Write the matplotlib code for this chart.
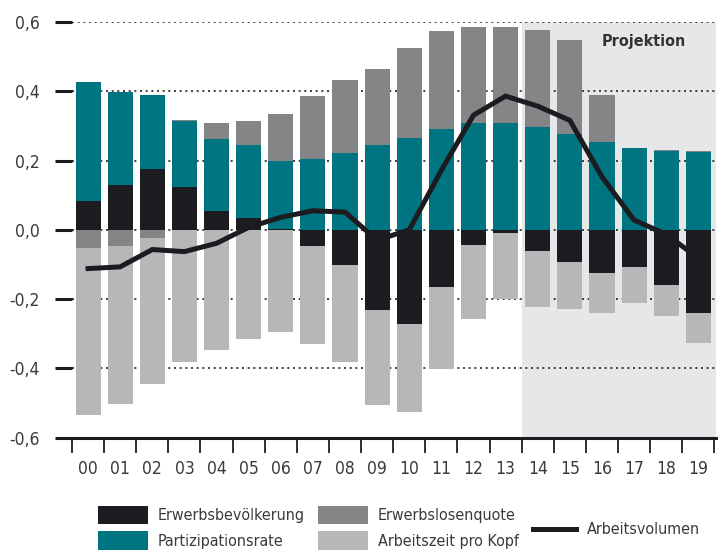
import matplotlib
matplotlib.use("Agg")
import matplotlib.pyplot as plt
import numpy as np
from matplotlib.patches import Patch
from matplotlib.lines import Line2D

plt.rcParams['font.family'] = ['DejaVu Sans']
plt.rcParams['font.stretch'] = 'condensed'

years = ["00", "01", "02", "03", "04", "05", "06", "07", "08", "09",
         "10", "11", "12", "13", "14", "15", "16", "17", "18", "19"]
erwerbsbev = [0.083, 0.129, 0.175, 0.123, 0.054, 0.034, 0.001, -0.046, -0.101, -0.233,
              -0.272, -0.165, -0.043, -0.009, -0.060, -0.093, -0.124, -0.108, -0.159, -0.241]
partizipation = [0.344, 0.269, 0.214, 0.191, 0.208, 0.210, 0.199, 0.203, 0.221, 0.244,
                 0.264, 0.290, 0.308, 0.308, 0.296, 0.276, 0.253, 0.235, 0.228, 0.225]
erwerbslosen = [-0.053, -0.046, -0.024, 0.003, 0.046, 0.070, 0.134, 0.183, 0.211, 0.219,
                0.260, 0.283, 0.279, 0.277, 0.282, 0.271, 0.136, 0.002, 0.002, 0.002]
arbeitszeit = [-0.483, -0.456, -0.420, -0.381, -0.346, -0.315, -0.294, -0.283, -0.280, -0.272,
               -0.253, -0.236, -0.214, -0.191, -0.162, -0.135, -0.115, -0.103, -0.089, -0.085]
arbeitsvolumen = [-0.112, -0.107, -0.057, -0.063, -0.039, 0.007, 0.036, 0.055, 0.051, -0.030,
                  0.000, 0.172, 0.331, 0.386, 0.357, 0.316, 0.153, 0.028, -0.013, -0.082]
proj_start = "14"

series = [("Erwerbsbevölkerung", erwerbsbev, "#1c1b1f"),
          ("Partizipationsrate", partizipation, "#007582"),
          ("Erwerbslosenquote", erwerbslosen, "#848587"),
          ("Arbeitszeit pro Kopf", arbeitszeit, "#b6b7b9")]

fig = plt.figure(figsize=(7.18, 5.55), dpi=100)
ax = fig.add_axes([72/718, 1-437.6/555, (716-72)/718, (437.6-22)/555])

x = np.arange(len(years))
ps = years.index(proj_start)
ax.axvspan(ps - 0.5, len(years) + 1, ymin=0, ymax=1, color="#e6e7e9", zorder=0, lw=0)

for yv in [0.6, 0.4, 0.2, 0.0, -0.2, -0.4, -0.6]:
    ax.axhline(yv, color="#222222", lw=1.2, ls=(0, (1.2, 2.2)), zorder=1)

pos_base = np.zeros(len(years))
neg_base = np.zeros(len(years))
for name, vals, col in series:
    v = np.array(vals)
    base = np.where(v >= 0, pos_base, neg_base)
    ax.bar(x, v, bottom=base, width=0.78, color=col, zorder=2, lw=0)
    pos_base = pos_base + np.where(v >= 0, v, 0)
    neg_base = neg_base + np.where(v < 0, v, 0)

ax.plot(x, arbeitsvolumen, color="#1c1b1f", lw=3.6, zorder=4, solid_joinstyle="miter")

ax.set_xlim(-0.5, 19.55)
ax.set_ylim(-0.6, 0.6)
for s in ["top", "right", "left"]:
    ax.spines[s].set_visible(False)
ax.spines["bottom"].set_linewidth(2.2)
ax.spines["bottom"].set_color("#1c1b1f")
ax.spines["bottom"].set_zorder(5)

tc = "#3a3a3a"
ax.set_yticks([0.6, 0.4, 0.2, 0.0, -0.2, -0.4, -0.6])
ax.set_yticklabels(["0,6", "0,4", "0,2", "0,0", "-0,2", "-0,4", "-0,6"])
ax.tick_params(axis="y", length=12, width=2.2, color="#1c1b1f", pad=11,
               labelsize=12.5, labelcolor=tc)

ax.set_xticks(np.arange(-0.5, 19.6, 1.0))
ax.set_xticklabels([])
ax.tick_params(axis="x", which="major", length=11, width=1.3, color="#1c1b1f", direction="out")
ax.set_xticks(x, minor=True)
ax.set_xticklabels(years, minor=True)
ax.tick_params(axis="x", which="minor", length=0, pad=16, labelsize=12.5, labelcolor=tc)

ax.text(18.6, 0.545, "Projektion", ha="right", va="center", fontsize=11.5,
        fontweight="bold", color="#333333", zorder=6)

fs = 11.5
h1 = [Patch(color=series[0][2], lw=0), Patch(color=series[1][2], lw=0)]
h2 = [Patch(color=series[2][2], lw=0), Patch(color=series[3][2], lw=0)]
common = dict(frameon=False, fontsize=fs, handlelength=3.1, handleheight=1.38,
              handletextpad=0.65, labelspacing=0.45, borderpad=0, borderaxespad=0,
              labelcolor=tc)
leg1 = fig.legend(h1, [series[0][0], series[1][0]], loc="upper left",
                  bbox_to_anchor=(98/718, 1-506/555), **common)
leg2 = fig.legend(h2, [series[2][0], series[3][0]], loc="upper left",
                  bbox_to_anchor=(318/718, 1-506/555), **common)
leg3 = fig.legend([Line2D([0], [0], color="#1c1b1f", lw=3.6)], ["Arbeitsvolumen"],
                  loc="center left", bbox_to_anchor=(533/718, 1-530/555),
                  frameon=False, fontsize=fs, handlelength=2.7, handletextpad=0.7,
                  borderpad=0, borderaxespad=0, labelcolor=tc)

fig.savefig("out.png", dpi=100)
